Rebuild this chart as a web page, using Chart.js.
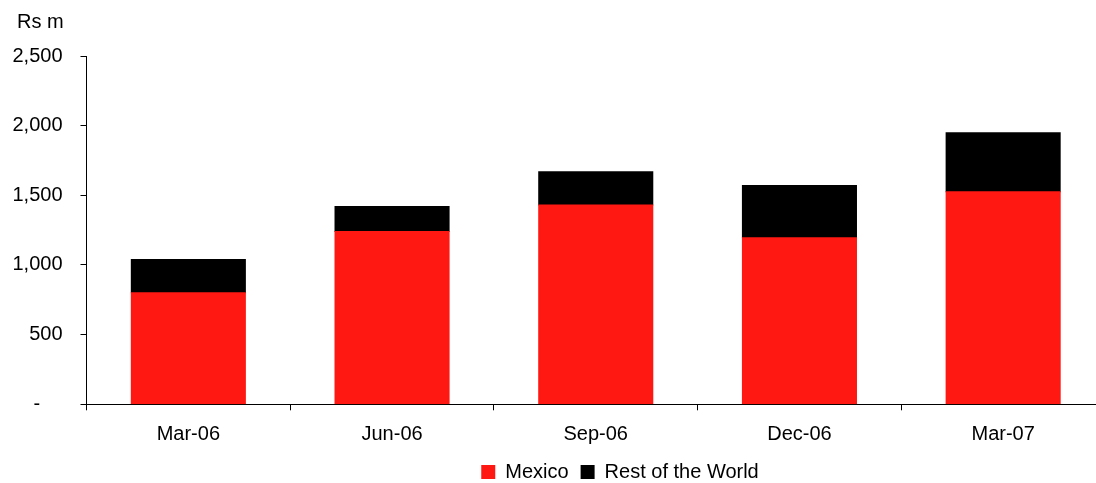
<!DOCTYPE html>
<html>
<head>
<meta charset="utf-8">
<script src="https://cdn.jsdelivr.net/npm/chart.js@4.4.1/dist/chart.umd.min.js"></script>
<style>
  html, body { margin: 0; padding: 0; background: #fff; overflow: hidden; }
  #wrap { position: relative; width: 1105px; height: 483px; }
</style>
</head>
<body>
<div id="wrap"><canvas id="chart"></canvas></div>
<script>
// Quarterly revenue by region, Rs m
const quarters = ['Mar-06', 'Jun-06', 'Sep-06', 'Dec-06', 'Mar-07'];
const mexico = [800, 1240, 1430, 1195, 1525];
const restOfWorld = [240, 180, 240, 375, 425];
const yTicks = [0, 500, 1000, 1500, 2000, 2500];

const FONT = { family: "'Liberation Sans', Arial, sans-serif", size: 20 };
Chart.defaults.color = '#000';
Chart.defaults.font.family = FONT.family;
Chart.defaults.font.size = FONT.size;

// Let the tick labels spill past their axis boxes without being clipped,
// and nudge the legend row right of centre and closer to the bottom edge
const layoutTweaks = {
  id: 'layoutTweaks',
  afterLayout(chart) {
    chart.scales.y.left = 0;
    chart.scales.x.bottom = chart.height;
    const lg = chart.legend;
    if (lg) {
      lg.left += 59; lg.right += 59;
      lg.top += 9; lg.bottom += 9;
    }
  }
};

new Chart(document.getElementById('chart'), {
  type: 'bar',
  data: {
    labels: quarters,
    datasets: [
      { label: 'Mexico', data: mexico, backgroundColor: '#ff1712', borderWidth: 0 },
      { label: 'Rest of the World', data: restOfWorld, backgroundColor: '#000000', borderWidth: 0 }
    ]
  },
  options: {
    responsive: true,
    maintainAspectRatio: false,
    animation: false,
    datasets: { bar: { categoryPercentage: 1, barPercentage: 0.56, inflateAmount: 0.5 } },
    layout: { padding: { left: 17, right: 0, top: 0, bottom: 0 } },
    plugins: {
      title: {
        display: true,
        text: 'Rs m',
        align: 'start',
        font: { size: 20, weight: 'normal' },
        padding: { top: 10, bottom: 22 }
      },
      legend: {
        position: 'bottom',
        labels: { boxWidth: 14, boxHeight: 14, padding: 12, font: { size: 20 } }
      },
      tooltip: { enabled: false }
    },
    scales: {
      x: {
        stacked: true,
        afterFit(scale) { scale.height = 36.7; },
        grid: { drawOnChartArea: false, drawTicks: true, tickLength: 6, color: '#000' },
        border: { display: true, color: '#000', width: 1 },
        ticks: { padding: 12.5, font: { size: 20 } }
      },
      y: {
        stacked: true,
        min: 0,
        max: 2500,
        afterFit(scale) { scale.width = 69.5; },
        afterBuildTicks(scale) { scale.ticks = yTicks.map(v => ({ value: v })); },
        grid: { drawOnChartArea: false, drawTicks: true, tickLength: 6, color: '#000' },
        border: { display: true, color: '#000', width: 1 },
        ticks: {
          padding: 18,
          font: { size: 20 },
          callback: v => v === 0 ? '-    ' : v.toLocaleString('en-US')
        }
      }
    }
  },
  plugins: [layoutTweaks]
});
</script>
</body>
</html>
